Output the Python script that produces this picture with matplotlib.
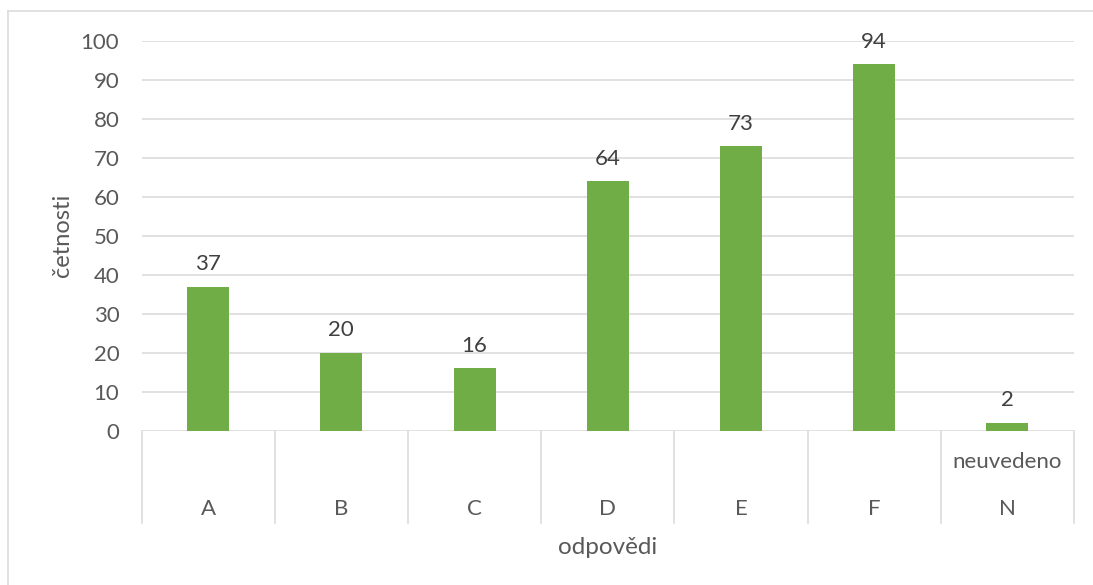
import matplotlib
matplotlib.use("Agg")
import matplotlib.pyplot as plt
from matplotlib.lines import Line2D
from matplotlib.transforms import blended_transform_factory

categories = ["A", "B", "C", "D", "E", "F", "N"]
upper_labels = ["", "", "", "", "", "", "neuvedeno"]
counts = [37, 20, 16, 64, 73, 94, 2]
y_ticks = [0, 10, 20, 30, 40, 50, 60, 70, 80, 90, 100]

W, H = 1093, 585
DPI = 100
plt.rcParams["font.family"] = ["Lato", "DejaVu Sans"]

fig = plt.figure(figsize=(W / DPI, H / DPI), dpi=DPI)
fig.patch.set_facecolor("white")

def px_x(x):
    return x / W

def px_y(y):
    return 1 - y / H

left, right, top, bottom = 141.5, 1074, 41, 430.7
ax = fig.add_axes([px_x(left), px_y(bottom), px_x(right) - px_x(left), px_y(top) - px_y(bottom)])

grid_col = "#D9D9D9"
tick_col = "#595959"
label_col = "#404040"
bar_col = "#70AD47"
fs = 16

x = list(range(len(categories)))
ax.bar(x, counts, width=0.315, color=bar_col, zorder=3)
ax.set_xlim(-0.5, len(categories) - 0.5)
ax.set_ylim(0, 100)
ax.set_yticks(y_ticks)
ax.set_yticklabels([str(t) for t in y_ticks], fontsize=fs, color=tick_col)
ax.tick_params(axis="y", length=0, pad=16)
ax.set_xticks([])
for s in ax.spines.values():
    s.set_visible(False)
for t in y_ticks:
    ax.axhline(t, color=grid_col, lw=1.1, zorder=1)

for xi, v in zip(x, counts):
    ax.annotate(str(v), (xi, v), xytext=(0, 9), textcoords="offset points",
                ha="center", va="bottom", fontsize=fs, color=label_col)

# multi-level category axis below the plot
trans = blended_transform_factory(ax.transData, fig.transFigure)
for i in range(len(categories) + 1):
    xs = i - 0.5
    fig.add_artist(Line2D([xs, xs], [px_y(bottom), px_y(523)], transform=trans,
                          color=grid_col, lw=1.1))
for xi, cat, up in zip(x, categories, upper_labels):
    fig.text(0, px_y(509), cat, transform=trans, ha="center", va="center",
             fontsize=fs, color=tick_col).set_x(xi)
    if up:
        fig.text(0, px_y(462), up, transform=trans, ha="center", va="center",
                 fontsize=fs, color=tick_col).set_x(xi)

fig.text(px_x((left + right) / 2), px_y(548), "odpovědi", ha="center", va="center",
         fontsize=17.5, color=tick_col)
fig.text(px_x(62), px_y((top + bottom) / 2), "četnosti", ha="center", va="center",
         rotation=90, fontsize=17, color=tick_col)

# chart frame (left and top edges)
fig.add_artist(Line2D([px_x(8), px_x(8)], [px_y(11), 0], color=grid_col, lw=1.1))
fig.add_artist(Line2D([px_x(8), 1], [px_y(11), px_y(11)], color=grid_col, lw=1.1))

fig.savefig("out.png", dpi=DPI, facecolor="white")
